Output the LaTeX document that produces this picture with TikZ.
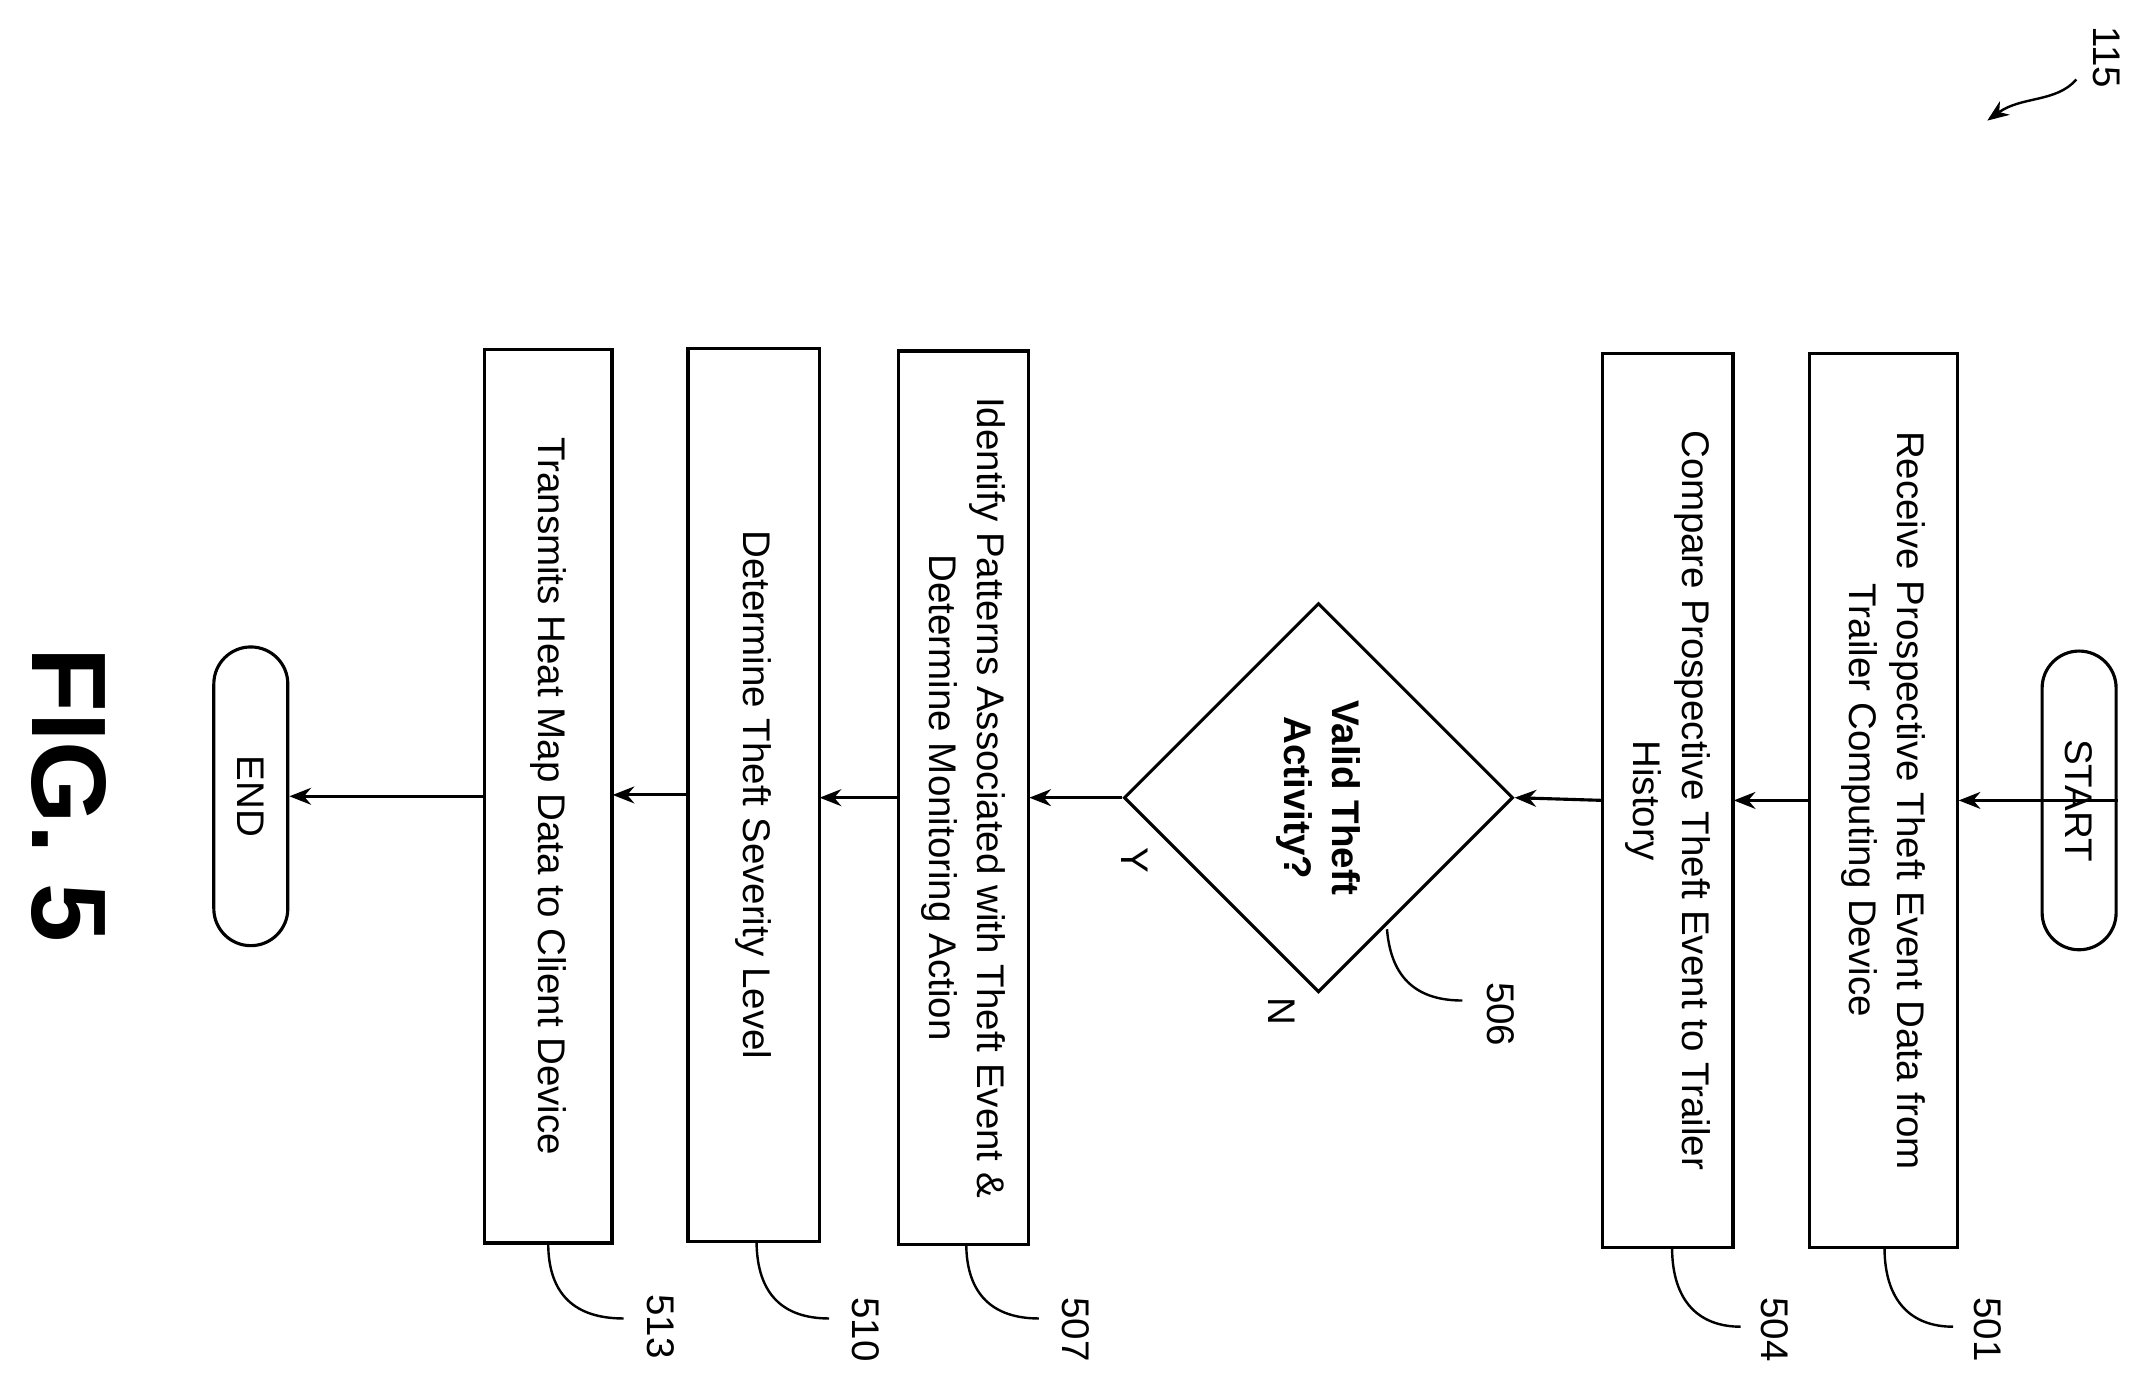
\documentclass[tikz,border=0pt]{standalone}
\usepackage{fontspec}
\setmainfont{Liberation Sans}
\usetikzlibrary{shapes.geometric,arrows.meta}
\begin{document}
\begin{tikzpicture}[x=0.02cm,y=-0.02cm,
  box/.style={draw,line width=1.3pt,rotate=-90,minimum width=13.04cm,align=center,font=\fontsize{16}{20}\selectfont,inner sep=0pt},
  pill/.style={draw,line width=1.3pt,rotate=-90,rounded corners=0.54cm,minimum width=4.36cm,minimum height=1.08cm,font=\fontsize{16}{20}\selectfont},
  arr/.style={-{Stealth[length=9pt,width=7pt]},line width=1.3pt},
  lead/.style={line width=1pt},
  num/.style={rotate=-90,font=\fontsize{16}{20}\selectfont}]
\useasboundingbox (0,0) rectangle (1568,1012);
\node[pill] (start) at (1517,584) {START};
\node[box,minimum height=2.16cm] (b501) at (1374,584) {Receive Prospective Theft Event Data from\\Trailer Computing Device};
\node[box,minimum height=1.9cm] (b504) at (1217,584) {Compare Prospective Theft Event to Trailer\\History};
\node[diamond,draw,line width=1.3pt,minimum width=5.68cm,minimum height=5.68cm,inner sep=0pt] (d506) at (962,582) {};
\node[rotate=-90,align=center,font=\fontsize{16}{20}\selectfont\bfseries] at (962,582) {Valid Theft\\Activity?};
\node[box,minimum height=1.9cm] (b507) at (703,582) {Identify Patterns Associated with Theft Event \&\\Determine Monitoring Action};
\node[box,minimum height=1.92cm] (b510) at (550,580) {Determine Theft Severity Level};
\node[box,minimum height=1.86cm] (b513) at (400,581) {Transmits Heat Map Data to Client Device};
\node[pill] (end) at (183,581) {END};
\draw[arr] (start.north) -- (b501.north |- start.north);
\draw[arr] (1320,584) -- (1265,584);
\draw[arr] (1170,584) -- (d506.east);
\draw[arr] (d506.west) -- (751,582);
\draw[arr] (656,582) -- (598,582);
\draw[arr] (502,580) -- (447,580);
\draw[arr] (354,581) -- (end.north);
\node[num] (ly) at (828,628) {Y};
\node[num] (ln) at (935,738) {N};
% leaders
\coordinate (c501) at (1425,968);
\draw[lead] (1375,910) .. controls (1375,950) and (1395,968) .. (c501);
\node[num] at (1450,970) {501};
\coordinate (c504) at (1270,968);
\draw[lead] (1220,910) .. controls (1220,950) and (1240,968) .. (c504);
\node[num] at (1295,970) {504};
\coordinate (c506) at (1067,730);
\draw[lead] (1012,678) .. controls (1015,715) and (1035,730) .. (c506);
\node[num] at (1095,740) {506};
\coordinate (c507) at (758,962);
\draw[lead] (705,907) .. controls (705,945) and (725,962) .. (c507);
\node[num] at (785,970) {507};
\coordinate (c510) at (605,962);
\draw[lead] (552,905) .. controls (552,945) and (572,962) .. (c510);
\node[num] at (632,970) {510};
\coordinate (c513) at (455,962);
\draw[lead] (400,907) .. controls (400,945) and (420,962) .. (c513);
\node[num] at (482,968) {513};
\node[rotate=-90,font=\fontsize{44}{48}\selectfont\bfseries] at (50,580) {FIG. 5};
\node[num] (l115) at (1537,42) {115};
\draw[-{Stealth[length=9pt,width=7pt]},line width=1pt] (1515,58) .. controls (1500,75) and (1475,70) .. (1450,88);
\end{tikzpicture}
\end{document}
